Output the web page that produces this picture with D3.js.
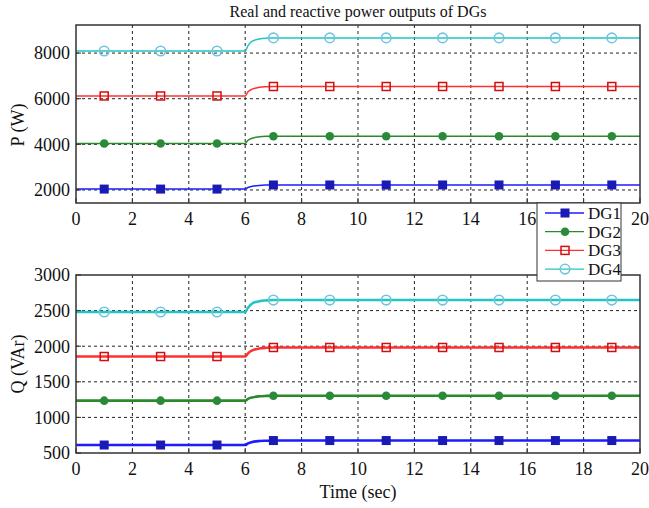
<!DOCTYPE html>
<html><head><meta charset="utf-8">
<script src="https://cdn.jsdelivr.net/npm/d3@7"></script>
<style>body{margin:0;background:#fff}</style>
</head><body><svg id="c" width="649" height="508" font-family="'Liberation Serif', 'Times New Roman', Times, serif"></svg>
<script>
// ---- data ----
const seriesNames = ["DG1","DG2","DG3","DG4"];
const times = [0, 6, 6.1, 6.25, 6.5, 6.75, 7, 20];
const P_DG1 = [2040, 2040, 2110, 2160, 2200, 2215, 2220, 2220];
const P_DG2 = [4040, 4040, 4180, 4270, 4330, 4350, 4355, 4355];
const P_DG3 = [6120, 6120, 6300, 6420, 6500, 6525, 6535, 6535];
const P_DG4 = [8090, 8090, 8330, 8520, 8620, 8655, 8665, 8665];
const Q_DG1 = [612, 612, 635, 655, 668, 672, 675, 675];
const Q_DG2 = [1235, 1235, 1260, 1280, 1296, 1302, 1305, 1305];
const Q_DG3 = [1855, 1855, 1900, 1940, 1968, 1978, 1982, 1982];
const Q_DG4 = [2480, 2480, 2540, 2600, 2632, 2643, 2648, 2648];
const markerTimes = [1,3,5,7,9,11,13,15,17,19];
const xTicks = [0,2,4,6,8,10,12,14,16,18,20];
const pTicks = [2000,4000,6000,8000];
const qTicks = [500,1000,1500,2000,2500,3000];

const colors = {DG1:"#1c1cff", DG2:"#2a8a2a", DG3:"#ff3030", DG4:"#22c4c4"};
const mcolors = {DG1:"#1a1ab5", DG2:"#2a8a3a", DG3:"#d01010", DG4:"#70c4dc"};

const svg = d3.select("#c");
const L = 76, R = 640;
const x = d3.scaleLinear().domain([0,20]).range([L,R]);
const legendBox = {x:537, y:203, w:84, h:78};

function panel(top, bottom, domain, ticks, data, qw){
  const y = d3.scaleLinear().domain(domain).range([bottom, top]);
  const g = svg.append("g");
  g.selectAll(".gx").data(xTicks.slice(1,-1)).join("line")
    .attr("x1",d=>x(d)).attr("x2",d=>x(d)).attr("y1",top).attr("y2",bottom)
    .attr("stroke","#222").attr("stroke-width",1).attr("stroke-dasharray","3,3");
  g.selectAll(".gy").data(ticks.filter(t=>y(t)>top+1 && y(t)<bottom-1)).join("line")
    .attr("x1",L).attr("x2",R).attr("y1",d=>y(d)).attr("y2",d=>y(d))
    .attr("stroke","#222").attr("stroke-width",1).attr("stroke-dasharray","3,3");
  const line = d3.line().x((d,i)=>x(times[i])).y(d=>y(d)).curve(d3.curveMonotoneX);
  const interp = (arr,t)=>{ for(let i=0;i<times.length-1;i++){ if(t>=times[i]&&t<=times[i+1]){const f=(t-times[i])/(times[i+1]-times[i]);return arr[i]+f*(arr[i+1]-arr[i]);} } return arr[arr.length-1]; };
  data.forEach((arr,k)=>{
    const n = seriesNames[k];
    g.append("path").attr("d",line(arr)).attr("fill","none").attr("stroke",colors[n]).attr("stroke-width",qw);
    markerTimes.forEach(t=>drawMarker(g,n,x(t),y(interp(arr,t))));
  });
  g.append("rect").attr("x",L).attr("y",top).attr("width",R-L).attr("height",bottom-top)
    .attr("fill","none").attr("stroke","#333").attr("stroke-width",1.5);
  g.selectAll(".ty").data(ticks).join("line").attr("x1",L).attr("x2",L+5).attr("y1",d=>y(d)).attr("y2",d=>y(d)).attr("stroke","#333");
  g.selectAll(".tx").data(xTicks).join("line").attr("x1",d=>x(d)).attr("x2",d=>x(d)).attr("y1",bottom).attr("y2",bottom-5).attr("stroke","#333");
  g.selectAll(".ly").data(ticks).join("text").attr("x",L-6).attr("y",d=>y(d)).attr("dy","0.35em")
    .attr("text-anchor","end").attr("font-size",18).attr("fill","#111").text(d=>d);
  // x tick labels (those hidden behind the legend box are not drawn, as in the reference)
  const visibleX = xTicks.filter(t=>{
    const lx = x(t), ly = bottom+16;
    return !(lx > legendBox.x-6 && lx < legendBox.x+legendBox.w && ly > legendBox.y && ly < legendBox.y+legendBox.h);
  });
  g.selectAll(".lx").data(visibleX).join("text").attr("x",d=>x(d)).attr("y",bottom+22)
    .attr("text-anchor","middle").attr("font-size",18).attr("fill","#111").text(d=>d);
  return y;
}

function drawMarker(g,n,cx,cy){
  if(n==="DG1") g.append("rect").attr("x",cx-4.5).attr("y",cy-4.5).attr("width",9).attr("height",9).attr("fill",mcolors[n]);
  else if(n==="DG2") g.append("circle").attr("cx",cx).attr("cy",cy).attr("r",4.3).attr("fill",mcolors[n]);
  else if(n==="DG3") g.append("rect").attr("x",cx-4).attr("y",cy-4).attr("width",8).attr("height",8).attr("fill","none").attr("stroke",mcolors[n]).attr("stroke-width",1.5);
  else g.append("circle").attr("cx",cx).attr("cy",cy).attr("r",4.8).attr("fill","none").attr("stroke",mcolors[n]).attr("stroke-width",1.6);
}

panel(25, 203, [1430, 9230], pTicks, [P_DG1,P_DG2,P_DG3,P_DG4], 1.5);
panel(275, 453, [500, 3000], qTicks, [Q_DG1,Q_DG2,Q_DG3,Q_DG4], 2.6);

svg.append("text").attr("x",358).attr("y",17).attr("text-anchor","middle").attr("font-size",16).attr("fill","#111").text("Real and reactive power outputs of DGs");
svg.append("text").attr("transform","translate(24,125) rotate(-90)").attr("text-anchor","middle").attr("font-size",18).attr("fill","#111").text("P (W)");
svg.append("text").attr("transform","translate(24,364) rotate(-90)").attr("text-anchor","middle").attr("font-size",18).attr("fill","#111").text("Q (VAr)");
svg.append("text").attr("x",358).attr("y",498).attr("text-anchor","middle").attr("font-size",18).attr("fill","#111").text("Time (sec)");

const lg = svg.append("g");
lg.append("rect").attr("x",legendBox.x).attr("y",legendBox.y).attr("width",legendBox.w).attr("height",legendBox.h).attr("fill","#fff").attr("stroke","#333").attr("stroke-width",1);
seriesNames.forEach((n,i)=>{
  const yy = 213 + i*18.7;
  lg.append("line").attr("x1",545).attr("x2",584).attr("y1",yy).attr("y2",yy).attr("stroke",colors[n]).attr("stroke-width",1.3);
  drawMarker(lg,n,565,yy);
  lg.append("text").attr("x",588).attr("y",yy).attr("dy","0.35em").attr("font-size",17).attr("fill","#111").text(n);
});
</script></body></html>
